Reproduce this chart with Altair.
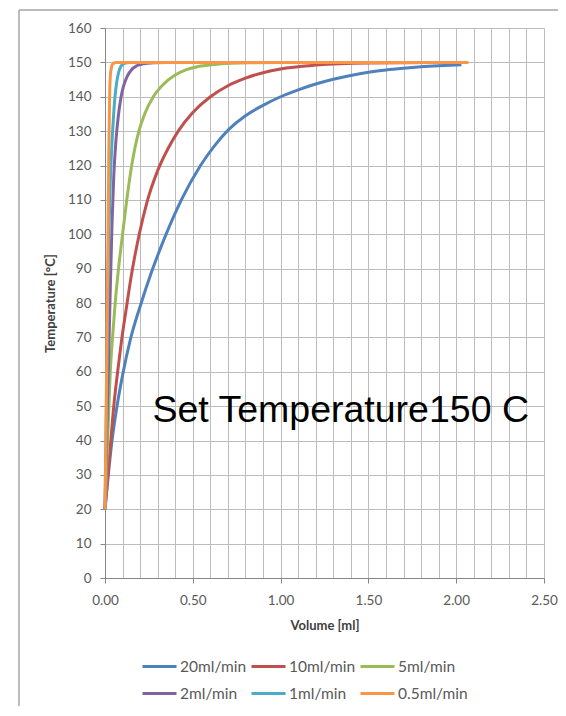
import altair as alt
import pandas as pd

series_names = ["20ml/min", "10ml/min", "5ml/min", "2ml/min", "1ml/min", "0.5ml/min"]
series_colors = ["#4F81BD", "#C0504D", "#9BBB59", "#8064A2", "#4BACC6", "#F79646"]

vol_20 = [0, 0.04, 0.07, 0.10, 0.145, 0.2, 0.265, 0.34, 0.435, 0.544, 0.62, 0.705, 0.8, 0.9, 1.0,
          1.1, 1.2, 1.3, 1.4, 1.5, 1.6, 1.7, 1.8, 1.9, 2.03]
temp_20 = [20, 40, 50.5, 59, 69.5, 79, 89, 99, 110, 120, 125.5, 130.5, 134.5, 137.5, 140,
           142, 143.7, 145.1, 146.2, 147.1, 147.8, 148.3, 148.7, 149.0, 149.3]

vol_10 = [0, 0.03, 0.05, 0.072, 0.094, 0.12, 0.15, 0.195, 0.24, 0.3, 0.36, 0.42, 0.5, 0.6, 0.7,
          0.8, 0.9, 1.0, 1.2, 1.5, 2.05]
temp_10 = [20, 38, 50, 60, 69, 78, 88, 100, 109.5, 118.5, 125, 130.2, 135.4, 140, 143.2,
           145.4, 147, 148.1, 149.2, 149.8, 150]

vol_5 = [0, 0.015, 0.03, 0.043, 0.058, 0.077, 0.10, 0.124, 0.152, 0.193, 0.226, 0.275, 0.33, 0.4,
         0.46, 0.53, 0.62, 0.72, 0.85, 1.0, 2.05]
temp_5 = [20, 40, 60, 70, 80, 90, 100, 110, 120, 130, 135, 140, 143.5, 146.3,
          147.8, 148.8, 149.4, 149.75, 149.92, 150, 150]

vol_2 = [0, 0.01, 0.02, 0.03, 0.04, 0.05, 0.062, 0.075, 0.09, 0.105, 0.125, 0.15, 0.18, 0.22,
         0.28, 0.35, 2.05]
temp_2 = [20, 42, 62, 84, 103, 117, 127, 134, 139.5, 143, 145.8, 147.8, 149, 149.6,
          149.9, 150, 150]

vol_1 = [0, 0.008, 0.015, 0.022, 0.03, 0.038, 0.047, 0.056, 0.066, 0.078, 0.092, 0.11, 0.14, 2.05]
temp_1 = [20, 50, 80, 100, 115, 125, 133, 139.5, 144, 147.2, 149, 149.7, 150, 150]

vol_05 = [0, 0.008, 0.016, 0.022, 0.027, 0.033, 0.042, 0.055, 0.07, 2.07]
temp_05 = [20, 55, 95, 125, 142, 147.5, 149.4, 149.9, 150, 150]

x_ticks = [round(i * 0.1, 1) for i in range(26)]
y_ticks = list(range(0, 170, 10))
legend_order = ["20ml/min", "10ml/min", "5ml/min", "2ml/min", "1ml/min", "0.5ml/min"]
note_text = "Set Temperature150 C"

vols = [vol_20, vol_10, vol_5, vol_2, vol_1, vol_05]
temps = [temp_20, temp_10, temp_5, temp_2, temp_1, temp_05]
rows = []
for name, vs, ts in zip(series_names, vols, temps):
    for v, t in zip(vs, ts):
        rows.append({"series": name, "volume": v, "temp": t})
df = pd.DataFrame(rows)

font = "Lato"
grid_col = "#bcbcbc"
axis_col = "#868686"
lab_col = "#595959"

x_enc = alt.X(
    "volume:Q",
    scale=alt.Scale(domain=[0, 2.5], nice=False),
    axis=alt.Axis(
        values=x_ticks,
        tickCount=30,
        title="Volume [ml]",
        labelExpr="round(datum.value*10) % 5 === 0 ? format(datum.value, '.2f') : ''",
        labelOverlap=False,
        labelFlush=False,
        tickSize={"condition": {"test": "round(datum.value*10) % 5 === 0", "value": 5}, "value": 0},
        labelPadding=10,
        titlePadding=13,
    ),
)
y_enc = alt.Y(
    "temp:Q",
    scale=alt.Scale(domain=[0, 160], nice=False),
    axis=alt.Axis(
        values=y_ticks,
        tickCount=20,
        title="Temperature [°C]",
        tickSize=5,
        labelPadding=9,
        titlePadding=10,
        labelFlush=False,
        labelOverlap=False,
    ),
)

lines = alt.Chart(df).mark_line(strokeWidth=3, interpolate="monotone").encode(
    x=x_enc,
    y=y_enc,
    color=alt.Color(
        "series:N",
        scale=alt.Scale(domain=series_names, range=series_colors),
        sort=series_names,
        legend=alt.Legend(
            title=None,
            orient="none",
            direction="horizontal",
            values=legend_order,
            legendX=36,
            legendY=620,
            columns=3,
            gridAlign="all",
            symbolType="stroke",
            symbolSize=1156,
            symbolStrokeWidth=3,
            labelFont=font,
            labelFontSize=15.5,
            labelColor=lab_col,
            labelOffset=2,
            columnPadding=-7.5,
            rowPadding=0,
            padding=0,
        ),
    ),
)

note = alt.Chart(pd.DataFrame({"t": [note_text]})).mark_text(
    font="Liberation Sans", fontSize=37.5, color="#000000", align="left", baseline="middle"
).encode(x=alt.datum(0.27), y=alt.datum(48.5), text="t:N")

frame_df = pd.DataFrame({"a": [0]})
frame_v = alt.Chart(frame_df).mark_rule(color="#a6a6a6", strokeWidth=1.5).encode(
    x=alt.value(-86), y=alt.value(-18), y2=alt.value(700)
)
frame_h = alt.Chart(frame_df).mark_rule(color="#a6a6a6", strokeWidth=1.5).encode(
    x=alt.value(-86), x2=alt.value(470), y=alt.value(-18)
)

chart = (
    alt.layer(frame_v, frame_h, lines, note)
    .properties(
        width=439,
        height=550,
        autosize=alt.AutoSizeParams(type="none"),
        padding={"left": 97, "top": 20, "right": 14, "bottom": 128},
    )
    .configure_view(stroke=None)
    .configure_axis(
        grid=True,
        gridColor=grid_col,
        gridWidth=1,
        domainColor=axis_col,
        tickColor=axis_col,
        labelFont=font,
        labelFontSize=13.5,
        labelColor=lab_col,
        titleFont=font,
        titleFontSize=13,
        titleFontWeight="bold",
        titleColor="#404040",
    )
)

chart.save("out.html", embed_options={"renderer": "svg", "actions": False})
